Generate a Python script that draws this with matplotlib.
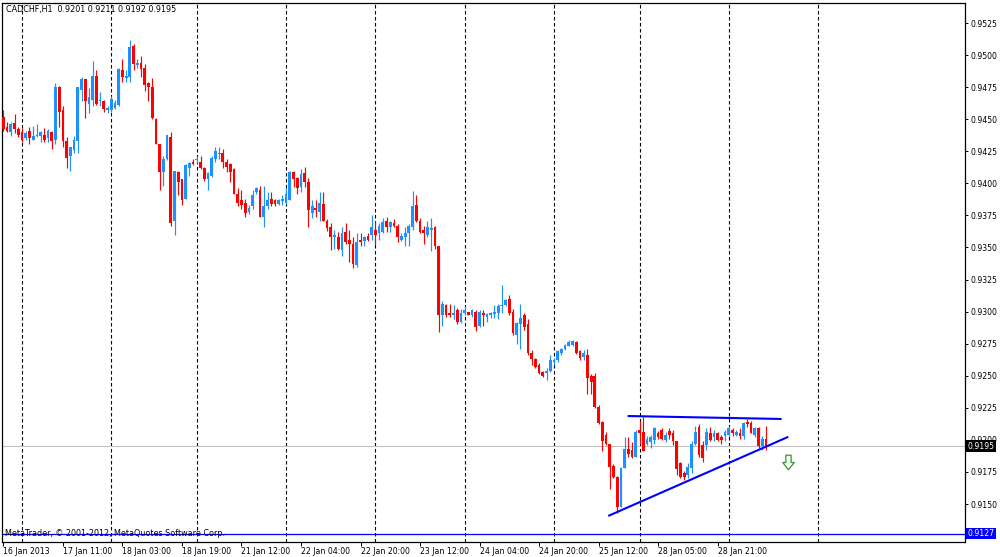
import matplotlib
matplotlib.use("Agg")
import matplotlib.pyplot as plt
import matplotlib.transforms as mtransforms
from matplotlib.path import Path
import numpy as np

# ---------------- data ----------------
symbol_title = "CADCHF,H1  0.9201 0.9211 0.9192 0.9195"
copyright_text = "MetaTrader, \u00a9 2001-2012, MetaQuotes Software Corp."

# trading sessions: (day, first hour, last hour)
sessions = [("16 Jan", 19, 23), ("17 Jan", 0, 23), ("18 Jan", 0, 22),
            ("21 Jan", 0, 23), ("22 Jan", 0, 23), ("23 Jan", 0, 23),
            ("24 Jan", 0, 23), ("25 Jan", 0, 22), ("28 Jan", 0, 23),
            ("29 Jan", 0, 10)]

opens = [
    .9452, .9444, .9440, .9447, .9442, .9440, .9435, .9441, .9434, .9437,
    .9437, .9438, .9435, .9440, .9434, .9475, .9457, .9433, .9421, .9426,
    .9433, .9473, .9481, .9462, .9465, .9484, .9464, .9464, .9457, .9457,
    .9459, .9461, .9488, .9482, .9483, .9507, .9492, .9494, .9490, .9478,
    .9475, .9450, .9431, .9409, .9419, .9436, .9371, .9409, .9403, .9388,
    .9412, .9417, .9418, .9417, .9412, .9403, .9406, .9419, .9423, .9424,
    .9417, .9415, .9411, .9392, .9387, .9385, .9378, .9382, .9393, .9395,
    .9374, .9382, .9388, .9387, .9384, .9386, .9385, .9387, .9409, .9404,
    .9397, .9408, .9401, .9377, .9381, .9378, .9384, .9371, .9366, .9358,
    .9358, .9348, .9362, .9356, .9353, .9336, .9356, .9355, .9359, .9360,
    .9364, .9361, .9362, .9371, .9366, .9369, .9367, .9356, .9358, .9361,
    .9366, .9383, .9371, .9364, .9360, .9364, .9366, .9351, .9297, .9305,
    .9299, .9297, .9301, .9292, .9299, .9300, .9297, .9300, .9289, .9299,
    .9296, .9297, .9298, .9299, .9304, .9305, .9310, .9300, .9282, .9290,
    .9297, .9290, .9268, .9263, .9258, .9253, .9252, .9254, .9261, .9262,
    .9268, .9271, .9273, .9274, .9276, .9269, .9265, .9266, .9250, .9250,
    .9226, .9214, .9204, .9197, .9180, .9171, .9148, .9178, .9193, .9192,
    .9187, .9208, .9206, .9197, .9198, .9200, .9205, .9208, .9200, .9207,
    .9205, .9199, .9182, .9174, .9173, .9178, .9197, .9210, .9196, .9196,
    .9205, .9202, .9205, .9202, .9203, .9204, .9208, .9204, .9205, .9203,
    .9214, .9213, .9204, .9209, .9195, .9201]
highs = [
    .9457, .9448, .9448, .9454, .9444, .9443, .9441, .9444, .9445, .9446,
    .9441, .9443, .9442, .9441, .9478, .9476, .9460, .9436, .9428, .9437,
    .9475, .9483, .9481, .9474, .9495, .9488, .9471, .9465, .9460, .9468,
    .9465, .9490, .9497, .9488, .9512, .9509, .9497, .9499, .9493, .9479,
    .9482, .9451, .9431, .9421, .9438, .9440, .9410, .9410, .9403, .9415,
    .9417, .9419, .9421, .9421, .9413, .9409, .9421, .9428, .9428, .9427,
    .9419, .9416, .9412, .9396, .9395, .9388, .9383, .9395, .9397, .9398,
    .9398, .9393, .9393, .9388, .9388, .9391, .9396, .9410, .9410, .9405,
    .9411, .9413, .9404, .9387, .9387, .9393, .9393, .9372, .9369, .9364,
    .9362, .9366, .9369, .9364, .9358, .9361, .9361, .9359, .9361, .9375,
    .9371, .9369, .9373, .9374, .9371, .9372, .9368, .9361, .9366, .9368,
    .9394, .9391, .9373, .9367, .9371, .9373, .9367, .9351, .9308, .9306,
    .9306, .9305, .9303, .9302, .9304, .9300, .9302, .9301, .9301, .9301,
    .9299, .9300, .9305, .9306, .9321, .9310, .9313, .9302, .9292, .9306,
    .9299, .9294, .9270, .9264, .9260, .9254, .9256, .9266, .9264, .9270,
    .9272, .9275, .9278, .9278, .9277, .9270, .9270, .9271, .9251, .9252,
    .9227, .9215, .9206, .9197, .9181, .9172, .9179, .9202, .9202, .9198,
    .9208, .9215, .9218, .9203, .9204, .9210, .9207, .9209, .9206, .9209,
    .9208, .9199, .9183, .9176, .9182, .9199, .9211, .9212, .9199, .9209,
    .9210, .9208, .9206, .9204, .9208, .9211, .9209, .9208, .9209, .9214,
    .9216, .9215, .9210, .9210, .9203, .9211]
lows = [
    .9441, .9440, .9437, .9439, .9436, .9432, .9434, .9431, .9434, .9436,
    .9432, .9432, .9432, .9427, .9431, .9444, .9428, .9412, .9410, .9424,
    .9424, .9464, .9451, .9455, .9460, .9461, .9460, .9456, .9455, .9456,
    .9458, .9460, .9479, .9479, .9479, .9488, .9490, .9483, .9472, .9464,
    .9450, .9431, .9395, .9398, .9418, .9367, .9360, .9391, .9383, .9388,
    .9406, .9414, .9416, .9411, .9402, .9395, .9405, .9417, .9419, .9412,
    .9409, .9401, .9392, .9382, .9380, .9374, .9376, .9380, .9392, .9374,
    .9366, .9380, .9382, .9382, .9383, .9383, .9384, .9387, .9397, .9392,
    .9393, .9397, .9366, .9373, .9374, .9371, .9371, .9363, .9348, .9349,
    .9348, .9343, .9353, .9339, .9334, .9335, .9351, .9351, .9355, .9356,
    .9352, .9356, .9361, .9362, .9362, .9366, .9354, .9355, .9351, .9351,
    .9364, .9370, .9361, .9353, .9358, .9347, .9349, .9284, .9289, .9296,
    .9296, .9294, .9290, .9291, .9297, .9297, .9296, .9285, .9288, .9289,
    .9292, .9295, .9295, .9294, .9299, .9304, .9297, .9282, .9275, .9271,
    .9286, .9266, .9258, .9256, .9251, .9249, .9247, .9253, .9258, .9261,
    .9266, .9270, .9273, .9273, .9267, .9262, .9262, .9236, .9236, .9225,
    .9212, .9191, .9196, .9162, .9170, .9143, .9148, .9178, .9187, .9186,
    .9187, .9197, .9191, .9196, .9194, .9197, .9201, .9200, .9198, .9201,
    .9196, .9173, .9170, .9169, .9170, .9174, .9196, .9187, .9183, .9192,
    .9199, .9199, .9199, .9197, .9199, .9203, .9203, .9203, .9201, .9201,
    .9210, .9205, .9202, .9194, .9192, .9192]
closes = [
    .9442, .9441, .9446, .9442, .9438, .9434, .9439, .9435, .9437, .9438,
    .9440, .9434, .9441, .9433, .9475, .9456, .9433, .9420, .9428, .9434,
    .9475, .9481, .9464, .9467, .9484, .9462, .9465, .9458, .9459, .9466,
    .9463, .9489, .9483, .9484, .9506, .9493, .9494, .9489, .9477, .9475,
    .9451, .9431, .9409, .9419, .9438, .9369, .9410, .9401, .9387, .9414,
    .9416, .9415, .9419, .9412, .9403, .9408, .9420, .9425, .9424, .9417,
    .9413, .9409, .9392, .9385, .9383, .9377, .9381, .9391, .9396, .9374,
    .9382, .9387, .9384, .9384, .9387, .9388, .9392, .9409, .9403, .9396,
    .9407, .9401, .9379, .9382, .9379, .9385, .9371, .9365, .9358, .9360,
    .9349, .9361, .9354, .9353, .9337, .9354, .9354, .9358, .9356, .9366,
    .9360, .9367, .9370, .9366, .9370, .9367, .9358, .9359, .9361, .9367,
    .9382, .9371, .9362, .9361, .9366, .9365, .9351, .9297, .9306, .9297,
    .9297, .9299, .9292, .9299, .9301, .9297, .9301, .9288, .9300, .9297,
    .9298, .9299, .9300, .9304, .9305, .9309, .9299, .9283, .9291, .9295,
    .9288, .9268, .9263, .9257, .9252, .9250, .9254, .9262, .9262, .9269,
    .9271, .9274, .9276, .9277, .9268, .9264, .9268, .9248, .9245, .9226,
    .9213, .9199, .9197, .9179, .9171, .9148, .9178, .9193, .9189, .9187,
    .9206, .9205, .9191, .9201, .9202, .9209, .9202, .9201, .9204, .9204,
    .9199, .9177, .9171, .9171, .9179, .9197, .9206, .9188, .9186, .9206,
    .9200, .9205, .9200, .9200, .9206, .9209, .9205, .9206, .9203, .9213,
    .9212, .9205, .9209, .9195, .9201, .9195]

price_ticks = [0.9150, 0.9175, 0.9200, 0.9225, 0.9250, 0.9275,
               0.9300, 0.9325, 0.9350, 0.9375, 0.9400, 0.9425, 0.9450,
               0.9475, 0.9500, 0.9525]
time_labels = ["16 Jan 2013", "17 Jan 11:00", "18 Jan 03:00", "18 Jan 19:00",
               "21 Jan 12:00", "22 Jan 04:00", "22 Jan 20:00", "23 Jan 12:00",
               "24 Jan 04:00", "24 Jan 20:00", "25 Jan 12:00", "28 Jan 05:00",
               "28 Jan 21:00"]
time_label_bars = ["16 Jan 19:00", "17 Jan 11:00", "18 Jan 03:00", "18 Jan 19:00",
                   "21 Jan 12:00", "22 Jan 04:00", "22 Jan 20:00", "23 Jan 12:00",
                   "24 Jan 04:00", "24 Jan 20:00", "25 Jan 12:00", "28 Jan 05:00",
                   "28 Jan 21:00"]

bid_price = 0.9195
level_price = 0.9127
# hand-drawn objects (bar position, price)
upper_trend_bars = [167.8, 209.2]
upper_trend_prices = [0.92186, 0.92163]
lower_trend_bars = [162.6, 211.0]
lower_trend_prices = [0.91407, 0.92024]
arrow_bar, arrow_price = 210.9, 0.91828

# ---------------- figure ----------------
BULL = "#1E90FF"
BEAR = "#FF0000"

bar_keys = [f"{d} {h:02d}:00" for d, h0, h1 in sessions for h in range(h0, h1 + 1)]
n = len(opens)
x = np.arange(n)
O = np.array(opens); H = np.array(highs); L = np.array(lows); C = np.array(closes)

fig = plt.figure(figsize=(10, 5.57), dpi=100, facecolor="white")
W, Hpx = 1000.0, 557.0
ax = fig.add_axes([2 / W, (Hpx - 541.7) / Hpx, 963 / W, 539.0 / Hpx])
ax.set_facecolor("white")

ax.set_xlim(-0.376, 258.5)
ax.set_ylim(0.912062, 0.954083)

# day separators
day_starts = [bar_keys.index(f"{d} 00:00") for d, h0, h1 in sessions if h0 == 0]
day_starts.append(day_starts[-1] + 24)
for ds in day_starts:
    ax.axvline(ds, color="black", lw=0.8, dashes=(3.2, 2.2), zorder=1)

# horizontal lines
ax.axhline(bid_price, color="#C0C0C0", lw=0.8, zorder=1.5)
ax.axhline(level_price, color="#0000FF", lw=0.9, zorder=1.5)

# candles
colors = np.where(C >= O, BULL, BEAR)
bottoms = np.minimum(O, C)
heights = np.maximum(np.abs(C - O), 0.00003)
ax.vlines(x, L, H, colors=colors, lw=0.85, zorder=2.9)
ax.bar(x, heights, bottom=bottoms, width=0.74, color=colors, linewidth=0, zorder=3)

# trend lines
ax.plot(upper_trend_bars, upper_trend_prices, color="#0000FF", lw=1.5, zorder=4,
        solid_capstyle="butt")
ax.plot(lower_trend_bars, lower_trend_prices, color="#0000FF", lw=1.5, zorder=4,
        solid_capstyle="butt")

# down arrow marker
arrow_path = Path([(-2.5, 7), (2.5, 7), (2.5, 0), (5.5, 0), (0, -7), (-5.5, 0),
                   (-2.5, 0), (-2.5, 7)],
                  [Path.MOVETO] + [Path.LINETO] * 6 + [Path.CLOSEPOLY])
ax.plot([arrow_bar], [arrow_price], marker=arrow_path, markersize=10.5,
        mfc="white", mec="#2E9A2E", mew=0.9, ls="none", zorder=5)

# axes styling
for sp in ax.spines.values():
    sp.set_color("black")
    sp.set_linewidth(0.9)

ax.yaxis.tick_right()
ax.set_yticks(price_ticks)
ax.set_yticklabels([f"{p:.4f}" for p in price_ticks])
ax.tick_params(axis="y", direction="out", length=2.5, width=0.7, pad=1.5,
               labelsize=5.6, colors="black")

tick_pos = [bar_keys.index(k) for k in time_label_bars]
ax.set_xticks(tick_pos)
ax.set_xticklabels(time_labels)
for lab in ax.get_xticklabels():
    lab.set_horizontalalignment("left")
ax.tick_params(axis="x", direction="out", length=3, width=0.7, pad=1.0,
               labelsize=5.6, colors="black")

# price boxes on the axis
blend = mtransforms.blended_transform_factory(ax.transAxes, ax.transData)
ax.text(1.0025, bid_price, f"{bid_price:.4f}", transform=blend, ha="left",
        va="center", color="white", fontsize=5.6, clip_on=False, zorder=10,
        bbox=dict(boxstyle="square,pad=0.18", fc="black", ec="none"))
ax.text(1.0025, level_price, f"{level_price:.4f}", transform=blend, ha="left",
        va="center", color="white", fontsize=5.6, clip_on=False, zorder=10,
        bbox=dict(boxstyle="square,pad=0.18", fc="#0000FF", ec="none"))

# texts
fig.text(6 / W, 1 - 9.5 / Hpx, symbol_title, ha="left", va="center",
         fontsize=5.8, color="black")
fig.text(5 / W, 1 - 533.5 / Hpx, copyright_text, ha="left", va="center",
         fontsize=5.8, color="black")

fig.savefig("out.png", dpi=100, facecolor="white")
